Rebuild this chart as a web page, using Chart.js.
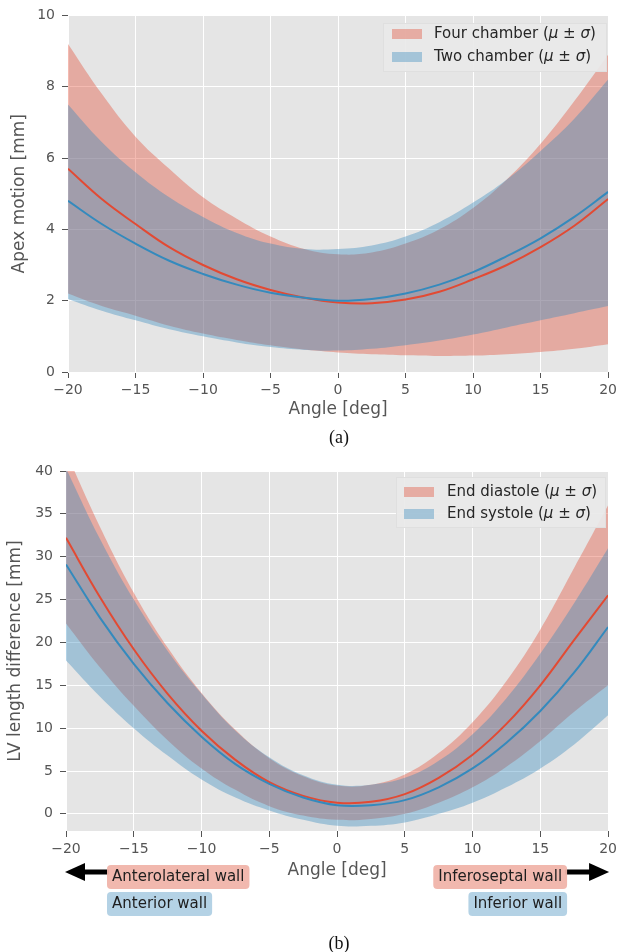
<!DOCTYPE html>
<html lang="en">
<head>
<meta charset="UTF-8">
<title>Apex motion and LV length difference</title>
<script src="https://cdn.jsdelivr.net/npm/chart.js"></script>
<style>
  body { margin: 0; background: #fff; width: 621px; height: 952px; position: relative; overflow: hidden; }
  .wrap { position: absolute; left: 0; width: 621px; }
  #wrapA { top: 0; height: 420px; }
  #wrapB { top: 420px; height: 532px; }
  .cap { position: absolute; left: 289px; width: 100px; text-align: center;
         font: 18px "Liberation Serif", "Times New Roman", serif; color: #111; line-height: 20px; }
</style>
</head>
<body>
<div class="wrap" id="wrapA"><canvas id="chartA" width="621" height="420"></canvas></div>
<div class="wrap" id="wrapB"><canvas id="chartB" width="621" height="532"></canvas></div>
<div class="cap" style="top:427px">(a)</div>
<div class="cap" style="top:933px">(b)</div>
<script>
// angles shared by both panels
const angles = [-20, -17.5, -15, -12.5, -10, -7.5, -5, -2.5, 0, 2.5, 5, 7.5, 10, 12.5, 15, 17.5, 20];

// (a) apex motion [mm]
const fourMean  = [5.7, 4.85, 4.15, 3.5, 3.0, 2.6, 2.3, 2.08, 1.95, 1.93, 2.03, 2.25, 2.6, 3.0, 3.5, 4.1, 4.85];
const fourUpper = [9.2, 7.8, 6.6, 5.7, 4.9, 4.3, 3.8, 3.45, 3.3, 3.35, 3.6, 4.0, 4.6, 5.4, 6.4, 7.6, 8.9];
const fourLower = [2.2, 1.85, 1.58, 1.3, 1.08, 0.9, 0.75, 0.63, 0.55, 0.5, 0.47, 0.45, 0.46, 0.5, 0.56, 0.65, 0.78];
const twoMean   = [4.8, 4.15, 3.6, 3.12, 2.75, 2.45, 2.22, 2.08, 2.0, 2.05, 2.2, 2.45, 2.8, 3.25, 3.75, 4.35, 5.05];
const twoUpper  = [7.5, 6.45, 5.6, 4.9, 4.35, 3.9, 3.6, 3.45, 3.45, 3.55, 3.8, 4.2, 4.75, 5.4, 6.2, 7.1, 8.2];
const twoLower  = [2.05, 1.72, 1.45, 1.2, 1.0, 0.83, 0.7, 0.62, 0.6, 0.65, 0.75, 0.88, 1.05, 1.25, 1.45, 1.65, 1.85];

// (b) LV length difference [mm]
const edMean  = [32.2, 25.3, 19.2, 14.0, 9.7, 6.3, 3.7, 2.1, 1.3, 1.4, 2.3, 4.2, 6.9, 10.5, 15.0, 20.3, 25.5];
const edUpper = [42.2, 33.5, 25.8, 19.4, 14.1, 9.8, 6.5, 4.4, 3.3, 3.4, 4.6, 7.1, 10.7, 15.5, 21.5, 28.7, 36.0];
const edLower = [22.2, 17.1, 12.6, 8.6, 5.3, 2.8, 0.9, -0.2, -0.7, -0.6, 0.0, 1.3, 3.1, 5.5, 8.5, 11.9, 15.0];
const esMean  = [29.1, 22.9, 17.5, 12.9, 9.0, 5.8, 3.5, 1.9, 1.0, 1.0, 1.6, 3.1, 5.3, 8.3, 12.0, 16.5, 21.8];
const esUpper = [40.3, 32.1, 25.0, 19.0, 14.0, 9.7, 6.6, 4.5, 3.4, 3.4, 4.2, 6.2, 9.3, 13.5, 18.7, 24.6, 31.0];
const esLower = [17.9, 13.7, 10.0, 6.8, 4.0, 1.9, 0.4, -0.7, -1.4, -1.4, -1.0, 0.0, 1.3, 3.1, 5.3, 8.1, 11.5];

const angleTicks = [-20, -15, -10, -5, 0, 5, 10, 15, 20];
const apexTicks = [0, 2, 4, 6, 8, 10];
const lvTicks = [0, 5, 10, 15, 20, 25, 30, 35, 40];

const legendA = ['Four chamber', 'Two chamber'];
const legendB = ['End diastole', 'End systole'];

const RED = '#E24A33', BLUE = '#348ABD';
const RED_FILL = 'rgba(226,74,51,0.38)', BLUE_FILL = 'rgba(52,138,189,0.38)';
const GREY = '#555555';
const FONT = '"DejaVu Sans", sans-serif';

const pts = arr => angles.map((a, i) => ({ x: a, y: arr[i] }));
const fmt = v => (v < 0 ? '\u2212' + (-v) : String(v));

// red band drawn first, blue band over it, then the two mean lines
function datasets(m1, u1, l1, m2, u2, l2) {
  const none = 'rgba(0,0,0,0)';
  return [
    { data: pts(u1), borderColor: none, backgroundColor: RED_FILL, fill: '+1', order: 3 },
    { data: pts(l1), borderColor: none, fill: false, order: 3 },
    { data: pts(u2), borderColor: none, backgroundColor: BLUE_FILL, fill: '+1', order: 2 },
    { data: pts(l2), borderColor: none, fill: false, order: 2 },
    { data: pts(m1), borderColor: RED, borderWidth: 2, fill: false, order: 1 },
    { data: pts(m2), borderColor: BLUE, borderWidth: 2, fill: false, order: 0 }
  ];
}

function options(o) {
  return {
    responsive: false,
    animation: false,
    layout: { padding: o.padding },
    plugins: { legend: { display: false }, tooltip: { enabled: false } },
    elements: { point: { radius: 0 }, line: { tension: 0.4 } },
    scales: {
      x: {
        type: 'linear', min: -20, max: 20,
        afterBuildTicks: s => { s.ticks = angleTicks.map(v => ({ value: v })); },
        afterFit: s => { s.height = o.xHeight; },
        grid: { color: '#ffffff', lineWidth: 1, tickLength: 6, tickColor: GREY },
        border: { display: false },
        ticks: { color: GREY, font: { family: FONT, size: 14 }, padding: 4, maxRotation: 0, callback: fmt },
        title: { display: true, text: 'Angle [deg]', color: GREY, font: { family: FONT, size: 17 }, padding: { top: 0, bottom: 0 } }
      },
      y: {
        min: o.yMin, max: o.yMax,
        afterBuildTicks: s => { s.ticks = o.yTicks.map(v => ({ value: v })); },
        afterFit: s => { s.width = o.yWidth; },
        grid: { color: '#ffffff', lineWidth: 1, tickLength: 6, tickColor: GREY },
        border: { display: false },
        ticks: { color: GREY, font: { family: FONT, size: 14 }, padding: 7, callback: fmt },
        title: { display: true, text: o.yTitle, color: GREY, font: { family: FONT, size: 17 }, padding: { top: o.yTitlePad, bottom: 0 } }
      }
    }
  };
}

const plotBg = {
  id: 'plotBg',
  beforeDraw(chart) {
    const a = chart.chartArea, ctx = chart.ctx;
    ctx.save();
    ctx.fillStyle = '#e5e5e5';
    ctx.fillRect(a.left, a.top, a.right - a.left, a.bottom - a.top);
    ctx.restore();
  }
};

function drawRich(ctx, parts, x, y) {
  let cx = x;
  parts.forEach(p => {
    ctx.font = (p.it ? 'italic ' : '') + '15px ' + FONT;
    ctx.fillText(p.t, cx, y);
    cx += ctx.measureText(p.t).width;
  });
}

function legendPlugin(names, box) {
  return {
    id: 'bandLegend',
    afterDraw(chart) {
      const ctx = chart.ctx;
      ctx.save();
      ctx.fillStyle = 'rgba(233,233,233,0.92)';
      ctx.strokeStyle = 'rgba(222,222,222,0.9)';
      ctx.lineWidth = 1;
      ctx.fillRect(box.x0, box.y0, box.x1 - box.x0, box.y1 - box.y0);
      ctx.strokeRect(box.x0 + 0.5, box.y0 + 0.5, box.x1 - box.x0 - 1, box.y1 - box.y0 - 1);
      const fills = [RED_FILL, BLUE_FILL];
      names.forEach((n, i) => {
        const y = box.rows[i];
        ctx.fillStyle = fills[i];
        ctx.fillRect(box.px, y - 5, 30, 10);
        ctx.fillStyle = '#262626';
        ctx.textBaseline = 'middle';
        drawRich(ctx, [{ t: n + ' (' }, { t: '\u03bc', it: true }, { t: ' \u00b1 ' }, { t: '\u03c3', it: true }, { t: ')' }], box.tx, y);
      });
      ctx.restore();
    }
  };
}

function roundBox(ctx, x, y, w, h, r) {
  ctx.beginPath();
  ctx.moveTo(x + r, y);
  ctx.lineTo(x + w - r, y);
  ctx.quadraticCurveTo(x + w, y, x + w, y + r);
  ctx.lineTo(x + w, y + h - r);
  ctx.quadraticCurveTo(x + w, y + h, x + w - r, y + h);
  ctx.lineTo(x + r, y + h);
  ctx.quadraticCurveTo(x, y + h, x, y + h - r);
  ctx.lineTo(x, y + r);
  ctx.quadraticCurveTo(x, y, x + r, y);
  ctx.closePath();
  ctx.fill();
}

// wall labels with arrows under panel (b)
const wallNotes = {
  id: 'wallNotes',
  afterDraw(chart) {
    const ctx = chart.ctx, xs = chart.scales.x;
    const xl = xs.getPixelForValue(-20), xr = xs.getPixelForValue(20);
    const leftX = xl + 41, rightX = xr - 41;
    const rowY = [457, 484], arrowY = 452;
    ctx.save();
    ctx.fillStyle = '#000';
    // left arrow
    ctx.fillRect(xl + 16, arrowY - 2.5, leftX - xl - 14, 5);
    ctx.beginPath();
    ctx.moveTo(xl - 1, arrowY); ctx.lineTo(xl + 19, arrowY - 9); ctx.lineTo(xl + 19, arrowY + 9); ctx.closePath(); ctx.fill();
    // right arrow
    ctx.fillRect(rightX - 2, arrowY - 2.5, xr - rightX - 14, 5);
    ctx.beginPath();
    ctx.moveTo(xr + 1, arrowY); ctx.lineTo(xr - 19, arrowY - 9); ctx.lineTo(xr - 19, arrowY + 9); ctx.closePath(); ctx.fill();

    ctx.font = '15px ' + FONT;
    ctx.textBaseline = 'middle';
    const notes = [
      { t: 'Anterolateral wall', c: 'rgba(240,180,170,0.95)', side: 'l', row: 0 },
      { t: 'Anterior wall', c: 'rgba(176,208,228,0.95)', side: 'l', row: 1 },
      { t: 'Inferoseptal wall', c: 'rgba(240,180,170,0.95)', side: 'r', row: 0 },
      { t: 'Inferior wall', c: 'rgba(176,208,228,0.95)', side: 'r', row: 1 }
    ];
    notes.forEach(n => {
      const w = ctx.measureText(n.t).width + 10;
      const x = n.side === 'l' ? leftX : rightX - w;
      const y = rowY[n.row];
      ctx.fillStyle = n.c;
      roundBox(ctx, x, y - 12, w, 24, 4);
      ctx.fillStyle = '#1e1e1e';
      ctx.fillText(n.t, x + 5, y);
    });
    ctx.restore();
  }
};

new Chart(document.getElementById('chartA'), {
  type: 'line',
  data: { datasets: datasets(fourMean, fourUpper, fourLower, twoMean, twoUpper, twoLower) },
  options: options({ yMin: 0, yMax: 10, yTicks: apexTicks, yTitle: 'Apex motion [mm]', yWidth: 68, yTitlePad: 9,
                     xHeight: 48, padding: { left: 0, right: 12, top: 15, bottom: 0 } }),
  plugins: [plotBg, legendPlugin(legendA, { x0: 383, x1: 607, y0: 23, y1: 72, px: 392, tx: 434, rows: [34, 57] })]
});

new Chart(document.getElementById('chartB'), {
  type: 'line',
  data: { datasets: datasets(edMean, edUpper, edLower, esMean, esUpper, esLower) },
  options: options({ yMin: -2, yMax: 40, yTicks: lvTicks, yTitle: 'LV length difference [mm]', yWidth: 66, yTitlePad: 5,
                     xHeight: 50, padding: { left: 0, right: 10, top: 51, bottom: 71 } }),
  plugins: [plotBg, wallNotes, legendPlugin(legendB, { x0: 396, x1: 606, y0: 57, y1: 108, px: 404, tx: 447, rows: [72, 94] })]
});
</script>
</body>
</html>
